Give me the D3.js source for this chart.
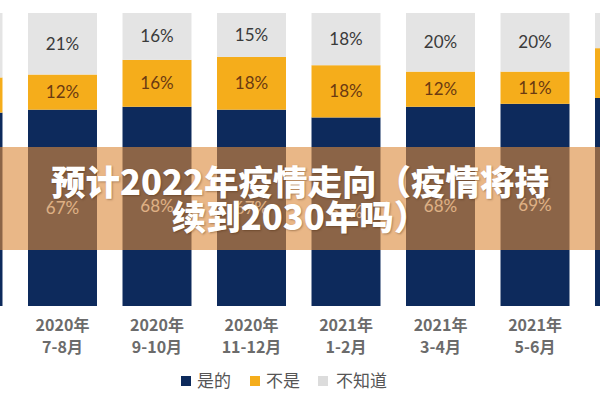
<!DOCTYPE html>
<html>
<head>
<meta charset="utf-8">
<script src="https://cdn.jsdelivr.net/npm/d3@7"></script>
<style>
  body { margin: 0; background: #fff; }
  svg { display: block; }
</style>
</head>
<body>
<div id="chart"></div>
<script>
// categories (first and last are only partly inside the picture)
const periods = ['2020年|5-6月', '2020年|7-8月', '2020年|9-10月', '2020年|11-12月',
                 '2021年|1-2月', '2021年|3-4月', '2021年|5-6月', '2021年|7-8月'];
const yesVals  = [66, 67, 68, 67, 65, 68, 69, 71];
const noVals   = [12, 12, 16, 18, 18, 12, 11, 17];
const idkVals  = [22, 21, 16, 15, 18, 20, 20, 12];
const seriesNames = ['是的', '不是', '不知道'];
const titleLines = ['预计2022年疫情走向（疫情将持', '续到2030年吗）'];

const width = 600, height = 400;
const colors = { '是的': '#0d2a5c', '不是': '#f5ad1b', '不知道': '#e4e4e4' };
const labelColors = { '是的': '#e6eef8', '不是': '#6b3a12', '不知道': '#3a3a3a' };

const rows = periods.map((p, i) => ({
  period: p, '是的': yesVals[i], '不是': noVals[i], '不知道': idkVals[i]
}));
// only the bars fully inside the frame get text
const shown = periods.slice(1, -1);

/// SETUP scales
let x = d3.scaleBand()
  .domain(periods)
  .range([-66.5, 664])
  .paddingInner(0.27)
  .paddingOuter(0);

let y = d3.scaleLinear()
  .domain([0, 1])
  .range([306, 13]);

const stacked = d3.stack()
  .keys(seriesNames)
  .offset(d3.stackOffsetExpand)(rows);

/// CREATE SVG
let svg = d3.select('#chart')
  .append('svg')
  .attr('width', width)
  .attr('height', height);

/// BUILD bars
let layer = svg.selectAll('.layer')
  .data(stacked)
  .join('g')
  .attr('class', 'layer')
  .attr('fill', d => colors[d.key]);

layer.selectAll('rect')
  .data(d => d)
  .join('rect')
  .attr('x', d => x(d.data.period))
  .attr('y', d => y(d[1]))
  .attr('width', x.bandwidth())
  .attr('height', d => y(d[0]) - y(d[1]));

// value labels
svg.selectAll('.val-layer')
  .data(stacked)
  .join('g')
  .attr('class', 'val-layer')
  .selectAll('text')
  .data(d => d.filter(v => shown.includes(v.data.period)).map(v => ({ key: d.key, v })))
  .join('text')
  .attr('x', d => x(d.v.data.period) + x.bandwidth() / 2)
  .attr('y', d => (y(d.v[0]) + y(d.v[1])) / 2)
  .attr('dy', '0.35em')
  .attr('text-anchor', 'middle')
  .style('font-family', 'Lato, "Open Sans", sans-serif')
  .style('font-size', '17px')
  .style('fill', d => labelColors[d.key])
  .text(d => d.v.data[d.key] + '%');

/// DISPLAY x axis
let xAxis = svg.append('g')
  .attr('transform', 'translate(0,318)')
  .call(d3.axisBottom(x).tickSize(0).tickValues(shown).tickFormat(''));
xAxis.select('.domain').remove();
xAxis.selectAll('.tick text').remove();
xAxis.selectAll('.tick')
  .append('text')
  .attr('text-anchor', 'middle')
  .style('font-family', '"Noto Sans CJK SC", sans-serif')
  .style('font-weight', 'bold')
  .style('font-size', '16px')
  .style('fill', '#6b6b6b')
  .selectAll('tspan')
  .data(d => d.split('|'))
  .join('tspan')
  .attr('x', 0)
  .attr('y', (d, i) => 13 + i * 22)
  .text(d => d);

/// legend
const legendX = [181, 250, 318];
let legend = svg.append('g')
  .selectAll('g')
  .data(seriesNames)
  .join('g')
  .attr('transform', (d, i) => `translate(${legendX[i]},381)`);
legend.append('rect')
  .attr('x', 0).attr('y', -5)
  .attr('width', 10).attr('height', 10)
  .attr('fill', d => d === '不知道' ? '#dcdcdc' : colors[d]);
legend.append('text')
  .attr('x', d => d === '不知道' ? 18 : 16)
  .attr('dy', '0.36em')
  .style('font-family', '"Noto Sans CJK SC", sans-serif')
  .style('font-size', '17px')
  .style('fill', '#555')
  .text(d => d);

/// overlay band with title
svg.append('rect')
  .attr('x', 0).attr('y', 147)
  .attr('width', width).attr('height', 103)
  .attr('fill', 'rgb(219,137,59)')
  .attr('opacity', 0.61);

svg.append('g')
  .selectAll('text')
  .data(titleLines)
  .join('text')
  .attr('x', width / 2)
  .attr('y', (d, i) => 183 + i * 35)
  .attr('dy', '0.36em')
  .attr('text-anchor', 'middle')
  .style('font-family', '"Noto Sans CJK SC", sans-serif')
  .style('font-weight', 900)
  .style('font-size', '34.5px')
  .style('fill', '#fff')
  .style('text-shadow', '1px 1px 2px rgba(60,30,0,0.35)')
  .text(d => d);
</script>
</body>
</html>
